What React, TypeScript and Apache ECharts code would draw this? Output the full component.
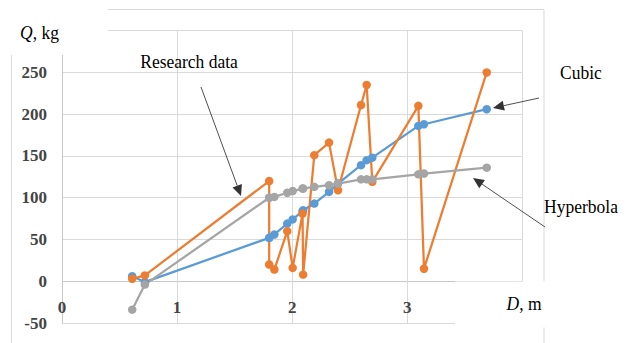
import React, { useEffect, useRef } from "react";
import * as echarts from "echarts";

// Diameter D, m (shared by all series)
const D_VALUES = [0.61, 0.72, 1.8, 1.8, 1.845, 1.957, 2.004, 2.09, 2.095, 2.192, 2.32, 2.398, 2.598, 2.647, 2.696, 3.096, 3.145, 3.69];
// Research data Q, kg
const RESEARCH = [3, 7, 120, 20, 14, 60, 16, 81, 8, 151, 166, 109, 211, 235, 119, 210, 15, 250];
// Cubic fit Q, kg
const CUBIC = [6, -1, 52, 52, 56, 69, 74, 84, 85, 93, 107, 117, 139, 145, 148, 186, 188, 206];
// Hyperbola fit Q, kg
const HYPERBOLA = [-34, -4, 100, 100, 101, 106, 108, 111, 111, 113, 115, 117, 122, 122, 122, 128, 129, 136];

const X_TICKS_SHOWN = ["0", "1", "2", "3"];
const Y_HIDDEN = ["300"];

const FONT = "Liberation Serif";

const pairs = (ys: number[]) => D_VALUES.map((d, i) => [d, ys[i]]);

function arrow(x1: number, y1: number, x2: number, y2: number) {
  const dx = x2 - x1;
  const dy = y2 - y1;
  const len = Math.sqrt(dx * dx + dy * dy);
  const ux = dx / len;
  const uy = dy / len;
  const hl = 11;
  const hw = 5;
  const bx = x2 - ux * hl;
  const by = y2 - uy * hl;
  return [
    {
      type: "line",
      z: 60,
      shape: { x1, y1, x2: bx, y2: by },
      style: { stroke: "#505050", lineWidth: 1 },
    },
    {
      type: "polygon",
      z: 60,
      shape: {
        points: [
          [x2, y2],
          [bx - uy * hw, by + ux * hw],
          [bx + uy * hw, by - ux * hw],
        ],
      },
      style: { fill: "#333333" },
    },
  ];
}

function label(text: string, x: number, y: number, rich?: any) {
  return {
    type: "text",
    x,
    y,
    scaleY: 1.1,
    z: 61,
    style: {
      text,
      fontFamily: FONT,
      fontSize: 17.5,
      fill: "#000000",
      align: "center",
      verticalAlign: "middle",
      rich,
    },
  };
}

export default function App() {
  const ref = useRef<HTMLDivElement>(null);

  useEffect(() => {
    if (!ref.current) return;
    const chart = echarts.init(ref.current, undefined, { renderer: "svg" });
    const lineSeries = (name: string, ys: number[], color: string) => ({
      name,
      type: "line",
      data: pairs(ys),
      symbol: "circle",
      symbolSize: 8.5,
      showSymbol: true,
      lineStyle: { color, width: 2.25 },
      itemStyle: { color },
      emphasis: { disabled: true },
    });
    chart.setOption({
      animation: false,
      backgroundColor: "#ffffff",
      grid: {
        left: 62,
        top: 30.7,
        right: 105.6,
        bottom: 20,
        containLabel: false,
        outerBoundsMode: "none",
      },
      xAxis: {
        type: "value",
        position: "bottom",
        min: 0,
        max: 4,
        interval: 1,
        axisLine: { show: true, onZero: false, lineStyle: { color: "#D9D9D9", width: 1 } },
        axisTick: { show: false },
        splitLine: { show: true, lineStyle: { color: "#D9D9D9", width: 1 } },
        axisLabel: {
          inside: true,
          margin: 7,
          fontFamily: FONT,
          fontSize: 17,
          fontWeight: "bold",
          color: "#444444",
          formatter: (v: number) => (X_TICKS_SHOWN.includes(String(v)) ? String(v) : ""),
        },
      },
      yAxis: {
        type: "value",
        min: -50,
        max: 300,
        interval: 50,
        axisLine: { show: true, onZero: false, lineStyle: { color: "#C8C8C8", width: 1 } },
        axisTick: { show: false },
        splitLine: {
          show: true,
          lineStyle: {
            color: ["#D9D9D9", "#C8C8C8", "#D9D9D9", "#D9D9D9", "#D9D9D9", "#D9D9D9", "#D9D9D9", "#D9D9D9"],
            width: 1,
          },
        },
        axisLabel: {
          margin: 15,
          fontFamily: FONT,
          fontSize: 17,
          fontWeight: "bold",
          color: "#444444",
          formatter: (v: number) => (Y_HIDDEN.includes(String(v)) ? "" : String(v)),
        },
      },
      series: [
        lineSeries("Cubic", CUBIC, "#5B9BD5"),
        lineSeries("Research data", RESEARCH, "#ED7D31"),
        lineSeries("Hyperbola", HYPERBOLA, "#A5A5A5"),
      ],
      graphic: {
        elements: [
          {
            type: "rect",
            z: -10,
            shape: { x: 11.5, y: 9.5, width: 532.5, height: 400 },
            style: { fill: "none", stroke: "#D9D9D9", lineWidth: 1 },
          },
          { type: "rect", z: 50, shape: { x: 0, y: 0, width: 108, height: 55 }, style: { fill: "#ffffff" } },
          { type: "rect", z: 50, shape: { x: 455, y: 281.5, width: 105, height: 46 }, style: { fill: "#ffffff" } },
          label("{i|Q}, kg", 39.5, 33, { i: { fontStyle: "italic", fontFamily: FONT, fontSize: 17.5 } }),
          label("Research data", 189, 62),
          label("Cubic", 581, 73),
          label("Hyperbola", 581, 207),
          label("{i|D}, m", 524, 304, { i: { fontStyle: "italic", fontFamily: FONT, fontSize: 17.5 } }),
          ...arrow(201, 87, 241, 196),
          ...arrow(539, 98, 493, 108),
          ...arrow(545, 227, 473, 178),
        ],
      },
    });
    return () => chart.dispose();
  }, []);

  return (
    <div
      ref={ref}
      style={{ position: "absolute", left: 0, top: 0, width: 628, height: 343, background: "#ffffff" }}
    />
  );
}
